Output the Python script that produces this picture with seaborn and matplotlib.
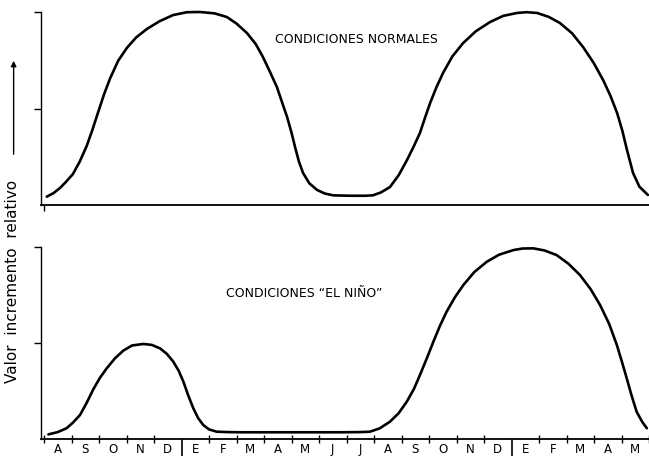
import matplotlib
matplotlib.use("Agg")
import matplotlib.pyplot as plt
import matplotlib.lines as mlines
from matplotlib.patches import FancyArrowPatch
import seaborn as sns
import pandas as pd
import numpy as np

# Month labels (centre of each month interval)
months = ["A", "S", "O", "N", "D", "E", "F", "M", "A", "M", "J",
          "J", "A", "S", "O", "N", "D", "E", "F", "M", "A", "M"]
year_breaks = [5, 17]  # month boundaries between D and E

# Normal conditions: time in months (from start of August), relative value
normal_t = [0.10, 0.35, 0.58, 0.80, 1.05, 1.30, 1.55, 1.75, 1.96, 2.18,
            2.40, 2.70, 3.02, 3.35, 3.75, 4.20, 4.69, 5.20, 5.67, 6.20,
            6.65, 7.00, 7.38, 7.70, 7.96, 8.20, 8.47, 8.65, 8.84, 9.00,
            9.13, 9.27, 9.42, 9.65, 9.93, 10.20, 10.51, 11.13, 11.70, 11.96,
            12.25, 12.58, 12.90, 13.20, 13.45, 13.67, 13.85, 14.04, 14.27, 14.51,
            14.85, 15.24, 15.70, 16.22, 16.70, 17.20, 17.55, 17.93, 18.35, 18.76,
            19.20, 19.60, 19.98, 20.33, 20.60, 20.84, 21.03, 21.20, 21.32, 21.42,
            21.65, 21.96]
normal_v = [0.043, 0.062, 0.088, 0.120, 0.160, 0.225, 0.305, 0.385, 0.477, 0.572,
            0.655, 0.748, 0.815, 0.868, 0.913, 0.952, 0.984, 0.999, 1.000, 0.993,
            0.974, 0.940, 0.891, 0.834, 0.767, 0.695, 0.611, 0.535, 0.456, 0.375,
            0.300, 0.225, 0.166, 0.112, 0.078, 0.060, 0.050, 0.048, 0.048, 0.050,
            0.065, 0.093, 0.155, 0.233, 0.305, 0.373, 0.450, 0.528, 0.610, 0.684,
            0.770, 0.839, 0.900, 0.948, 0.980, 0.995, 0.999, 0.995, 0.975, 0.943,
            0.890, 0.819, 0.738, 0.648, 0.565, 0.477, 0.385, 0.285, 0.220, 0.166,
            0.095, 0.052]

# "El Niño" conditions
nino_t = [0.16, 0.50, 0.82, 1.05, 1.31, 1.55, 1.79, 2.03, 2.28, 2.58,
          2.88, 3.20, 3.61, 3.92, 4.22, 4.47, 4.70, 4.90, 5.07, 5.25,
          5.43, 5.60, 5.79, 6.00, 6.28, 6.70, 7.13, 8.95, 10.76, 11.50,
          11.85, 12.20, 12.58, 12.90, 13.19, 13.45, 13.67, 13.92, 14.16, 14.40,
          14.64, 14.95, 15.25, 15.65, 16.10, 16.55, 17.07, 17.40, 17.79, 18.20,
          18.64, 19.07, 19.49, 19.88, 20.22, 20.55, 20.83, 21.02, 21.19, 21.37,
          21.55, 21.75, 21.92]
nino_v = [0.024, 0.036, 0.056, 0.085, 0.125, 0.188, 0.258, 0.318, 0.368, 0.420,
          0.460, 0.487, 0.495, 0.490, 0.472, 0.443, 0.403, 0.355, 0.298, 0.225,
          0.160, 0.110, 0.073, 0.050, 0.038, 0.036, 0.035, 0.035, 0.035, 0.036,
          0.038, 0.055, 0.090, 0.135, 0.194, 0.260, 0.333, 0.420, 0.507, 0.590,
          0.663, 0.740, 0.802, 0.870, 0.923, 0.960, 0.984, 0.992, 0.993, 0.982,
          0.958, 0.913, 0.854, 0.780, 0.698, 0.600, 0.490, 0.400, 0.316, 0.225,
          0.142, 0.090, 0.056]

title_normal = "CONDICIONES NORMALES"
title_nino = "CONDICIONES \u201cEL NIÑO\u201d"
ylabel = "Valor  incremento  relativo"

sns.set_style("white")
plt.rcParams["font.family"] = ["DejaVu Sans"]
plt.rcParams["text.color"] = "black"
plt.rcParams["xtick.color"] = "black"
plt.rcParams["ytick.color"] = "black"
plt.rcParams["xtick.labelcolor"] = "black"

fig = plt.figure(figsize=(6.49, 4.59), dpi=100)
W, H = 649, 459
x0_px, month_px = 44.0, 27.5
xlim = (-0.1, 22.0)
left = (x0_px + xlim[0] * month_px) / W
width = (xlim[1] - xlim[0]) * month_px / W

ax1 = fig.add_axes([left, (H - 205) / H, width, 193 / H])
ax2 = fig.add_axes([left, (H - 439) / H, width, 192 / H])

df1 = pd.DataFrame({"t": normal_t, "v": normal_v})
df2 = pd.DataFrame({"t": nino_t, "v": nino_v})
sns.lineplot(data=df1, x="t", y="v", ax=ax1, color="black", lw=1.9,
             estimator=None, sort=False)
sns.lineplot(data=df2, x="t", y="v", ax=ax2, color="black", lw=1.9,
             estimator=None, sort=False)

for ax in (ax1, ax2):
    ax.set_xlim(*xlim)
    ax.set_ylim(0, 1.0)
    ax.set_xlabel("")
    ax.set_ylabel("")
    for s in ("top", "right"):
        ax.spines[s].set_visible(False)
    ax.spines["left"].set_linewidth(1.0)
    ax.spines["bottom"].set_linewidth(1.3)
    ax.spines["left"].set_color("black")
    ax.spines["bottom"].set_color("black")
    ax.set_yticks([0.5, 1.0])
    ax.set_yticklabels([])
    ax.tick_params(axis="y", direction="out", length=5, width=1.0,
                   color="black", left=True)
    for line in ax.lines:
        line.set_clip_on(False)
        line.set_solid_joinstyle("round")
        line.set_solid_capstyle("round")
    ax.patch.set_alpha(0)

ax1.set_xticks([0])
ax1.set_xticklabels([])
ax1.tick_params(axis="x", direction="out", length=4, width=1.0,
                color="black", bottom=True)
ax1.text(11.35, 0.855, title_normal, ha="center", va="center", fontsize=9)
ax2.text(9.45, 0.76, title_nino, ha="center", va="center", fontsize=9)

centers = np.arange(len(months)) + 0.5
ax2.set_xticks(centers)
ax2.set_xticklabels(months, fontsize=8.5)
ax2.set_xticks(np.arange(len(months) + 1), minor=True)
ax2.tick_params(axis="x", which="major", length=0, pad=3)
ax2.tick_params(axis="x", which="minor", direction="inout", length=6,
                width=1.0, color="black", bottom=True)
minor_ticks = ax2.xaxis.get_minor_ticks()
for i in year_breaks:
    minor_ticks[i].tick1line.set_marker(mlines.TICKDOWN)
    minor_ticks[i].tick1line.set_markersize(12)
    minor_ticks[i].tick1line.set_markeredgewidth(1.2)

fig.text(0.019, (H - 281) / H, ylabel, rotation=90, ha="center",
         va="center", fontsize=11)
fig.patches.append(FancyArrowPatch(
    (0.021, (H - 157) / H), (0.021, (H - 58) / H),
    transform=fig.transFigure, arrowstyle="-|>", mutation_scale=8,
    color="black", lw=1.0))

fig.savefig("out.png", dpi=100)
